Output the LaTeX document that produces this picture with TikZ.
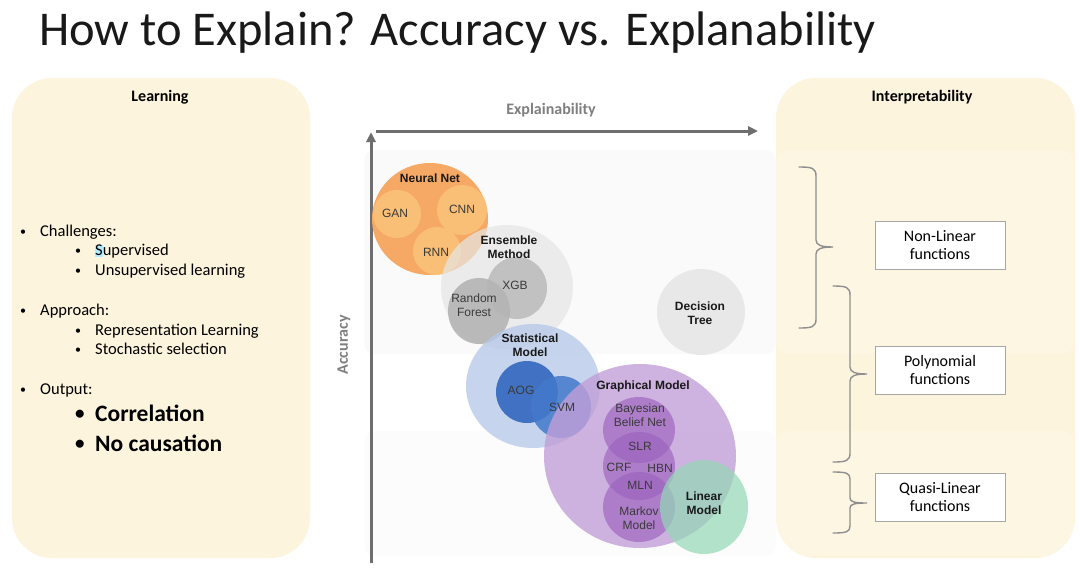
\documentclass[tikz,border=0pt]{standalone}
\usepackage{fontspec}
\setmainfont{Carlito}
\newfontfamily\arialf{Liberation Sans}
\usetikzlibrary{arrows.meta}
\definecolor{cream}{HTML}{FDF4DD}
\definecolor{axisgray}{HTML}{6E6E6E}
\definecolor{labgray}{HTML}{7F7F7F}
\definecolor{nnorange}{HTML}{F6A865}
\definecolor{nnlight}{HTML}{FAC47A}
\definecolor{ensgray}{HTML}{E6E6E6}
\definecolor{xgbgray}{HTML}{BDBDBD}
\definecolor{dtgray}{HTML}{E8E8E8}
\definecolor{statblue}{HTML}{B4C8E8}
\definecolor{aogblue}{HTML}{3A6CC0}
\definecolor{svmblue}{HTML}{4479CC}
\definecolor{gmpurple}{HTML}{C29FD8}
\definecolor{inpurple}{HTML}{9C62BF}
\definecolor{lingreen}{HTML}{93D8B4}
\definecolor{brgray}{HTML}{8F8F8F}
\definecolor{txtdark}{HTML}{3A3A3A}
\begin{document}
\begin{tikzpicture}[x=1pt,y=-1pt,
  panel/.style={fill=cream, rounded corners=40pt},
  paneltitle/.style={font=\fontsize{16}{19}\selectfont\bfseries, text=black, inner sep=0pt},
  item/.style={font=\fontsize{16.5}{19}\selectfont, anchor=base west, inner sep=0pt, text=black},
  dot/.style={font=\fontsize{12}{14}\selectfont, anchor=base west, inner sep=0pt, text=black},
  bigdot/.style={font=\fontsize{19}{22}\selectfont\bfseries, anchor=base west, inner sep=0pt, text=black},
  bigitem/.style={font=\fontsize{23.5}{27}\selectfont\bfseries, anchor=base west, inner sep=0pt, text=black},
  axis/.style={draw=axisgray, line width=3pt, -{Triangle[length=10pt,width=9pt]}},
  axlabel/.style={font=\fontsize{16}{19}\selectfont\bfseries, text=labgray, inner sep=0pt},
  lbl/.style={font=\arialf\fontsize{12}{14.5}\selectfont, text=txtdark, align=center, inner sep=0pt},
  grp/.style={font=\arialf\bfseries\fontsize{12}{14.5}\selectfont, text=black!90, align=center, inner sep=0pt},
  fnbox/.style={draw=black!35, line width=0.8pt, fill=white, minimum width=130pt, minimum height=48pt, align=center, font=\fontsize{16}{19}\selectfont, inner sep=2pt},
  brace/.style={draw=brgray, line width=1.4pt, line cap=round}
]
\useasboundingbox (0,0) rectangle (1080,579);
\fill[white] (0,0) rectangle (1080,579);

% title
\node[anchor=base west, inner sep=0pt, font=\fontsize{48.5}{56}\selectfont, text=black!90] (title) at (39,45) {How to Explain? Accuracy vs. Explanability};

% panels
\fill[panel] (12,78) rectangle (310,558);
\fill[panel] (776,78) rectangle (1075,558);

% faint bands
\fill[black, opacity=0.018, rounded corners=10pt] (364,150) rectangle (776,354);
\fill[black, opacity=0.012, rounded corners=10pt] (364,431) rectangle (776,556);
\fill[white, opacity=0.2, rounded corners=12pt] (776,150) rectangle (1074,354);
\fill[white, opacity=0.2, rounded corners=12pt] (776,431) rectangle (1074,556);

% left panel text
\node[paneltitle] (learn) at (160,97) {Learning};
\node[dot] (b1) at (20,235) {•};
\node[item] (t1) at (40,236) {Challenges:};
\fill[blue!25!cyan!30] (95,245) rectangle (103,257);
\node[dot] (b11) at (75,254) {•};
\node[item] (t11) at (95,255) {Supervised};
\node[dot] (b12) at (75,274) {•};
\node[item] (t12) at (95,275) {Unsupervised learning};
\node[dot] (b2) at (20,314) {•};
\node[item] (t2) at (40,315) {Approach:};
\node[dot] (b21) at (75,334) {•};
\node[item] (t21) at (95,335) {Representation Learning};
\node[dot] (b22) at (75,353) {•};
\node[item] (t22) at (95,354) {Stochastic selection};
\node[dot] (b3) at (20,393) {•};
\node[item] (t3) at (40,394) {Output:};
\node[bigdot] (b31) at (75,419) {•};
\node[bigitem] (t31) at (95,421) {Correlation};
\node[bigdot] (b32) at (75,449) {•};
\node[bigitem] (t32) at (95,451) {No causation};

% right panel
\node[paneltitle] (interp) at (922,97) {Interpretability};
\node[fnbox] (nonlin) at (940,245) {Non-Linear\\[-1pt]functions};
\node[fnbox] (poly) at (940,370) {Polynomial\\[-1pt]functions};
\node[fnbox] (quasi) at (940,497) {Quasi-Linear\\[-1pt]functions};

% braces
\draw[brace] (799,167) .. controls (812,167) and (816,168) .. (816,176) -- (816,240)
  .. controls (816,245) and (821,247) .. (833,247)
  .. controls (821,247) and (816,249) .. (816,254) -- (816,319)
  .. controls (816,327) and (812,328) .. (799,328);
\draw[brace] (833,286) .. controls (846,286) and (850,287) .. (850,295) -- (850,367)
  .. controls (850,372) and (855,374) .. (867,374)
  .. controls (855,374) and (850,376) .. (850,381) -- (850,453)
  .. controls (850,461) and (846,462) .. (833,462);
\draw[brace] (833,472) .. controls (846,472) and (850,473) .. (850,479) -- (850,498)
  .. controls (850,502) and (855,503) .. (867,503)
  .. controls (855,503) and (850,504) .. (850,508) -- (850,526)
  .. controls (850,532) and (846,533) .. (833,533);

% axes
\coordinate (origin) at (371,563);
\coordinate (ytop) at (371,132);
\coordinate (hstart) at (376,131);
\coordinate (hend) at (758,131);
\draw[axis] (origin) -- (ytop);
\draw[axis] (hstart) -- (hend);
\node[axlabel] (xlab) at (551,110) {Explainability};
\node[axlabel, rotate=90] (ylab) at (344,345) {Accuracy};

% neural net
\fill[nnorange] (430,219) ellipse [x radius=58pt, y radius=56pt];
\fill[nnlight, opacity=0.85] (397,214) circle [radius=24pt];
\fill[nnlight, opacity=0.85] (462,210) circle [radius=25pt];
\fill[nnlight, opacity=0.85] (437,251) circle [radius=24pt];
% ensemble
\fill[ensgray, opacity=0.7] (507,287) ellipse [x radius=66pt, y radius=62pt];
\fill[xgbgray, opacity=0.9] (517,288) ellipse [x radius=30pt, y radius=31pt];
\fill[xgbgray!95!black, opacity=0.9] (479,311) ellipse [x radius=31pt, y radius=33pt];
% decision tree
\fill[dtgray] (701,312) ellipse [x radius=44pt, y radius=43pt];
% statistical
\fill[statblue, opacity=0.75] (533,386) ellipse [x radius=67pt, y radius=62pt];
\fill[aogblue, opacity=0.95] (527,392) ellipse [x radius=31pt, y radius=31pt];
\fill[svmblue, opacity=0.85] (561,407) ellipse [x radius=30pt, y radius=31pt];
% graphical
\fill[gmpurple, opacity=0.8] (640,456) ellipse [x radius=96pt, y radius=92pt];
\fill[inpurple, opacity=0.65] (639,430) ellipse [x radius=36pt, y radius=33pt];
\fill[inpurple, opacity=0.65] (639,466) ellipse [x radius=36pt, y radius=34pt];
\fill[inpurple, opacity=0.65] (639,507) ellipse [x radius=36pt, y radius=35pt];
% linear
\fill[lingreen, opacity=0.7] (704,507) ellipse [x radius=44pt, y radius=47pt];

% labels
\node[grp] (nn) at (430,178) {Neural Net};
\node[lbl] (gan) at (395,213) {GAN};
\node[lbl] (cnn) at (462,209) {CNN};
\node[lbl] (rnn) at (436,252) {RNN};
\node[grp] (ens) at (509,247) {Ensemble\\Method};
\node[lbl] (xgb) at (515,285) {XGB};
\node[lbl] (rf) at (474,305) {Random\\Forest};
\node[grp] (dt) at (700,313) {Decision\\Tree};
\node[grp] (stat) at (530,345) {Statistical\\Model};
\node[lbl] (aog) at (521,390) {AOG};
\node[lbl] (svm) at (562,407) {SVM};
\node[grp] (gm) at (643,386) {Graphical Model};
\node[lbl] (bbn) at (640,415) {Bayesian\\Belief Net};
\node[lbl] (slr) at (640,446) {SLR};
\node[lbl] (crf) at (619,467) {CRF};
\node[lbl] (hbn) at (660,468) {HBN};
\node[lbl] (mln) at (640,485) {MLN};
\node[lbl] (mm) at (639,518) {Markov\\Model};
\node[grp] (lin) at (704,503) {Linear\\Model};
\end{tikzpicture}
\end{document}
